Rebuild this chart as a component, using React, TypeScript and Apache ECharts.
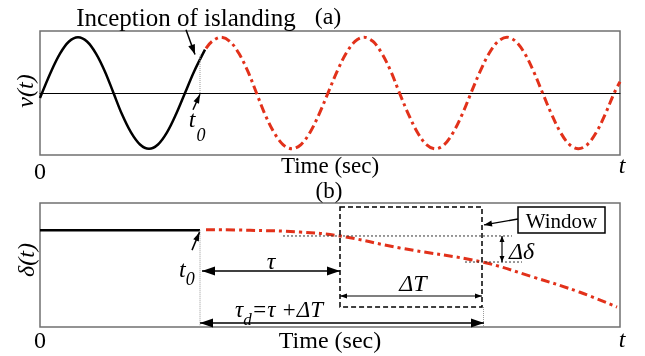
import React, { useEffect, useRef } from 'react';
import * as echarts from 'echarts';

// ---- Panel (a): voltage v(t), samples ----
const vBeforeT = [0, 11, 20, 29, 38, 47, 56, 65, 73.5, 82, 91, 100, 109, 118, 127, 136, 145, 154, 165];
const vBeforeV = [-0.08, 0.344, 0.636, 0.831, 0.9, 0.831, 0.636, 0.344, 0, -0.344, -0.636, -0.831, -0.9, -0.831, -0.636, -0.344, 0, 0.344, 0.7];
const vAfterT = [166, 172, 181, 190, 199, 208, 216.5, 225, 234, 243, 252, 261, 270, 279, 288, 297, 306, 315, 324, 333, 342, 351, 359.5, 368.5, 377.5, 386.4, 395.4, 404.3, 413.2, 422.2, 431, 440, 449, 458, 467, 475.8, 484.8, 493.7, 502.6, 511.6, 520.5, 529.5, 538.4, 547.3, 556.3, 565.2, 574.2, 580];
const vAfterV = [0.72, 0.831, 0.9, 0.831, 0.636, 0.344, 0, -0.344, -0.636, -0.831, -0.9, -0.831, -0.636, -0.344, 0, 0.344, 0.636, 0.831, 0.9, 0.831, 0.636, 0.344, 0, -0.344, -0.636, -0.831, -0.9, -0.831, -0.636, -0.344, 0, 0.344, 0.636, 0.831, 0.9, 0.831, 0.636, 0.344, 0, -0.344, -0.636, -0.831, -0.9, -0.831, -0.636, -0.344, 0, 0.18];

// ---- Panel (b): phase angle delta(t) ----
const dBeforeT = [0, 160];
const dBeforeV = [0.78, 0.78];
const dAfterT = [166, 210, 260, 300, 360, 442, 493, 540, 577];
const dAfterV = [0.785, 0.78, 0.766, 0.734, 0.637, 0.524, 0.403, 0.28, 0.161];

// ---- Annotation anchors (time units) ----
const T_MAX = 580;
const t0 = 160;
const winStart = 300;
const winEnd = 442;

const RED = '#e2311a';
const SERIF = '"Liberation Serif", "Times New Roman", serif';

const zip = (a: number[], b: number[]) => a.map((x, i) => [x, b[i]]);

export default function App() {
  const ref = useRef<HTMLDivElement>(null);
  useEffect(() => {
    const chart = echarts.init(ref.current!, null, { renderer: 'svg' });
    const redLine = { color: RED, width: 3, type: [9, 4, 3, 4] as any, cap: 'butt' };
    chart.setOption({
      animation: false,
      grid: [
        { left: 40, top: 31, width: 580, height: 124, show: true, borderColor: '#707070', borderWidth: 1.5, backgroundColor: 'transparent' },
        { left: 40, top: 203, width: 580, height: 124, show: true, borderColor: '#707070', borderWidth: 1.5, backgroundColor: 'transparent' },
      ],
      xAxis: [
        { gridIndex: 0, type: 'value', min: 0, max: T_MAX, axisLine: { show: true, onZero: true, lineStyle: { color: '#000', width: 1 } }, axisTick: { show: false }, axisLabel: { show: false }, splitLine: { show: false } },
        { gridIndex: 1, type: 'value', min: 0, max: T_MAX, axisLine: { show: false }, axisTick: { show: false }, axisLabel: { show: false }, splitLine: { show: false } },
      ],
      yAxis: [
        { gridIndex: 0, type: 'value', min: -1, max: 1, axisLine: { show: false }, axisTick: { show: false }, axisLabel: { show: false }, splitLine: { show: false } },
        { gridIndex: 1, type: 'value', min: 0, max: 1, axisLine: { show: false }, axisTick: { show: false }, axisLabel: { show: false }, splitLine: { show: false } },
      ],
      series: [
        { type: 'line', xAxisIndex: 0, yAxisIndex: 0, data: zip(vBeforeT, vBeforeV), smooth: 0.35, showSymbol: false, lineStyle: { color: '#000', width: 2.5 } },
        { type: 'line', xAxisIndex: 0, yAxisIndex: 0, data: zip(vAfterT, vAfterV), smooth: 0.35, showSymbol: false, lineStyle: redLine },
        { type: 'line', xAxisIndex: 1, yAxisIndex: 1, data: zip(dBeforeT, dBeforeV), showSymbol: false, lineStyle: { color: '#000', width: 2.5 } },
        { type: 'line', xAxisIndex: 1, yAxisIndex: 1, data: zip(dAfterT, dAfterV), smooth: 0.4, showSymbol: false, lineStyle: redLine },
      ],
    });

    const P = (g: number, x: number, y: number) => chart.convertToPixel({ gridIndex: g } as any, [x, y]) as number[];
    const els: any[] = [];
    const font = (size: number, italic = false) => `${italic ? 'italic ' : ''}${size}px ${SERIF}`;
    const txt = (x: number, y: number, text: string, size: number, o: any = {}) => {
      const align = o.align || 'center';
      els.push({
        type: 'text', x, y, rotation: o.rot || 0, silent: true, z: 10,
        style: { text, font: font(size, o.italic), fill: '#000', textAlign: align, textVerticalAlign: 'middle', align, verticalAlign: 'middle', rich: o.rich },
      });
    };
    const line = (a: number[], b: number[], stroke = '#000', w = 1.3, dash: any = null) => {
      els.push({ type: 'line', silent: true, z: 5, shape: { x1: a[0], y1: a[1], x2: b[0], y2: b[1] }, style: { stroke, lineWidth: w, lineDash: dash } });
    };
    const head = (tip: number[], from: number[], len: number, w: number) => {
      const dx = tip[0] - from[0], dy = tip[1] - from[1];
      const d = Math.hypot(dx, dy) || 1;
      const ux = dx / d, uy = dy / d;
      const bx = tip[0] - ux * len, by = tip[1] - uy * len;
      els.push({ type: 'polygon', silent: true, z: 6, shape: { points: [[tip[0], tip[1]], [bx - uy * w / 2, by + ux * w / 2], [bx + uy * w / 2, by - ux * w / 2]] }, style: { fill: '#000' } });
    };
    const arrow = (a: number[], b: number[], len: number, w: number, both = false, lw = 1.5) => {
      line(a, b, '#000', lw);
      head(b, a, len, w);
      if (both) head(a, b, len, w);
    };
    const subRich = (big: number, small: number, drop: number) => ({
      a: { font: font(big, true), lineHeight: big + drop * 2, verticalAlign: 'middle' },
      b: { font: font(small, true), verticalAlign: 'bottom' },
    });

    // ---------- Panel (a) ----------
    txt(186, 17, 'Inception of islanding', 25);
    txt(328, 16, '(a)', 24);
    txt(40, 171, '0', 24);
    txt(330, 165, 'Time (sec)', 23);
    txt(622, 165, 't', 24, { italic: true });
    txt(25, 91, 'v(t)', 24, { italic: true, rot: Math.PI / 2 });
    {
      const base = P(0, t0, 0);
      const top = P(0, t0, 0.62);
      line(base, top, '#999', 1, [1, 1]);
      arrow(P(0, t0 - 14, 1.02), P(0, t0 - 5, 0.62), 10, 7, false, 1.5);
      arrow(P(0, t0 - 7, -0.27), P(0, t0, -0.02), 9, 6, false, 1.5);
      txt(base[0] - 8, 119, 't', 24, { italic: true });
      txt(base[0] + 1, 135, '0', 18, { italic: true });
    }

    // ---------- Panel (b) ----------
    txt(329, 190, '(b)', 23);
    txt(40, 340, '0', 24);
    txt(330, 340, 'Time (sec)', 24);
    txt(622, 339, 't', 24, { italic: true });
    txt(26, 260, 'δ(t)', 24, { italic: true, rot: Math.PI / 2 });
    {
      // dotted verticals
      line(P(1, t0, 0.78), P(1, t0, 0), '#999', 1, [1, 1]);
      line(P(1, winEnd + 1.5, 0.161), P(1, winEnd + 1.5, 0), '#999', 1, [1, 1]);
      // t0 arrow + label
      arrow(P(1, t0 - 8, 0.62), P(1, t0 - 0.5, 0.765), 9, 6, false, 1.5);
      const x0 = P(1, t0, 0)[0];
      txt(x0 - 21, 269, '{a|t}{b|0}', 24, { align: 'left', rich: subRich(24, 18, 7) });
      // tau arrow
      const ta = P(1, t0 + 2, 0.452), tb = P(1, winStart, 0.452);
      arrow(ta, tb, 13, 9, true, 1.6);
      txt((ta[0] + tb[0]) / 2, ta[1] - 10, 'τ', 24, { italic: true });
      // window
      const w1 = P(1, winStart, 0.968), w2 = P(1, winEnd, 0.161);
      els.push({ type: 'rect', silent: true, z: 5, shape: { x: w1[0], y: w1[1], width: w2[0] - w1[0], height: w2[1] - w1[1] }, style: { fill: 'none', stroke: '#000', lineWidth: 1.5, lineDash: [5, 3] } });
      // Delta T arrow
      const da = P(1, winStart, 0.25), db = P(1, winEnd, 0.25);
      arrow(da, db, 7, 5, true, 1.2);
      txt((da[0] + db[0]) / 2 + 2, da[1] - 13, 'ΔT', 24, { italic: true });
      // tau_d arrow
      const ea = P(1, t0, 0.032), eb = P(1, winEnd + 2, 0.032);
      arrow(ea, eb, 13, 9, true, 1.6);
      txt(235, 309, '{a|τ}{b|d}{a|=τ +ΔT}', 23, { align: 'left', rich: subRich(23, 17, 7) });
      // reference dotted lines and delta-delta arrow
      line(P(1, 243, 0.734), P(1, 472, 0.734), '#333', 1, [2, 2]);
      line(P(1, 425, 0.524), P(1, 482, 0.524), '#333', 1, [2, 2]);
      const ga = P(1, 462, 0.734), gb = P(1, 462, 0.524);
      arrow(ga, gb, 6, 5, true, 1.2);
      txt(ga[0] + 7, (ga[1] + gb[1]) / 2 + 2, 'Δδ', 24, { italic: true, align: 'left' });
      // Window label box
      const b1 = P(1, 478, 0.968), b2 = P(1, 565, 0.758);
      els.push({ type: 'rect', silent: true, z: 7, shape: { x: b1[0], y: b1[1], width: b2[0] - b1[0], height: b2[1] - b1[1] }, style: { fill: '#fff', stroke: '#000', lineWidth: 1.5 } });
      txt((b1[0] + b2[0]) / 2, (b1[1] + b2[1]) / 2 + 1, 'Window', 21);
      arrow(P(1, 478, 0.871), P(1, winEnd + 2, 0.823), 8, 6, false, 1.3);
    }

    chart.setOption({ graphic: { elements: els } });
    return () => chart.dispose();
  }, []);
  return <div ref={ref} style={{ position: 'fixed', left: 0, top: 0, width: 645, height: 356 }} />;
}
